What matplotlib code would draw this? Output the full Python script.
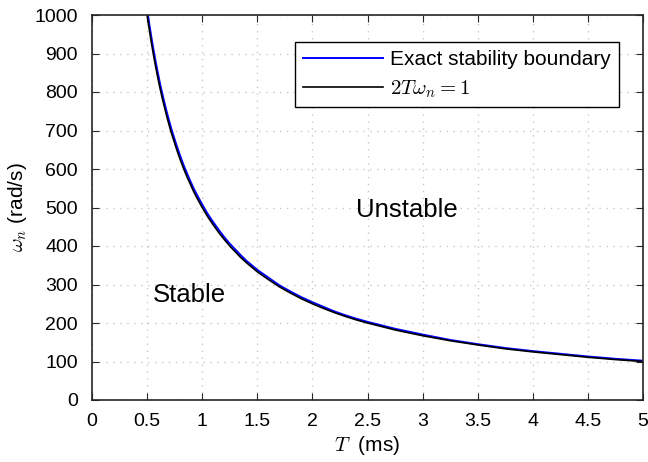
import matplotlib
matplotlib.use('Agg')
import matplotlib.pyplot as plt
import numpy as np

# sample period T (ms) and boundary values
T_ms = [0.50, 0.52, 0.54, 0.56, 0.58, 0.60, 0.62, 0.64, 0.66, 0.68, 0.70, 0.72, 0.74,
        0.76, 0.78, 0.80, 0.83, 0.86, 0.89, 0.92, 0.95, 1.00, 1.05, 1.10, 1.15, 1.20,
        1.25, 1.30, 1.35, 1.40, 1.45, 1.50, 1.60, 1.70, 1.80, 1.90, 2.00, 2.10, 2.20,
        2.30, 2.40, 2.50, 2.75, 3.00, 3.25, 3.50, 3.75, 4.00, 4.25, 4.50, 4.75, 5.00]
w_approx = [1000, 962, 926, 893, 862, 833, 806, 781, 758, 735, 714, 694, 676,
            658, 641, 625, 602, 581, 562, 543, 526, 500, 476, 455, 435, 417,
            400, 385, 370, 357, 345, 333, 313, 294, 278, 263, 250, 238, 227,
            217, 208, 200, 182, 167, 154, 143, 133, 125, 118, 111, 105, 100]
w_exact = [1015, 976, 940, 906, 875, 846, 818, 793, 769, 746, 725, 704, 686,
           668, 651, 634, 611, 590, 570, 551, 534, 508, 483, 462, 442, 423,
           406, 391, 376, 362, 350, 338, 318, 298, 282, 267, 254, 242, 230,
           220, 211, 203, 185, 170, 156, 145, 135, 127, 120, 113, 107, 102]

x_ticks = [0, 0.5, 1, 1.5, 2, 2.5, 3, 3.5, 4, 4.5, 5]
x_labels = ['0', '0.5', '1', '1.5', '2', '2.5', '3', '3.5', '4', '4.5', '5']

plt.rcParams['font.family'] = ['Liberation Sans', 'DejaVu Sans']
plt.rcParams['mathtext.fontset'] = 'cm'

fig = plt.figure(figsize=(6.48, 4.62), dpi=100)
ax = fig.add_axes([92 / 648, 62 / 462, 551 / 648, 385 / 462])

ax.plot(T_ms, w_exact, color='blue', lw=1.4, label='Exact stability boundary')
ax.plot(T_ms, w_approx, color='black', lw=1.2, label=r'$2T\omega_n = 1$')

ax.set_xlim(0, 5)
ax.set_ylim(0, 1000)
ax.set_xticks(x_ticks)
ax.set_xticklabels(x_labels)
ax.set_yticks(np.arange(0, 1001, 100))
ax.tick_params(direction='in', top=True, right=True, labelsize=14, length=5,
               color='#262626', labelcolor='black')
ax.tick_params(axis='x', pad=9)
ax.tick_params(axis='y', pad=10)
ax.grid(True, linestyle=(0, (1, 4)), color='#c8c8c8', lw=1)
for s in ax.spines.values():
    s.set_color('#262626')
    s.set_linewidth(1.2)

ax.set_xlabel(r'$T$  (ms)', fontsize=15, labelpad=3)
ax.set_ylabel(r'$\omega_n$ (rad/s)', fontsize=15, labelpad=4)

ax.text(0.55, 273, 'Stable', fontsize=18.5, va='center')
ax.text(2.40, 494, 'Unstable', fontsize=18.5, va='center')

leg = ax.legend(loc='upper right', bbox_to_anchor=(0.9564, 0.930), borderaxespad=0,
                fontsize=15, fancybox=False, framealpha=1, edgecolor='black',
                handlelength=3.85, borderpad=0.38, labelspacing=0.44, handletextpad=0.34)
leg.get_frame().set_linewidth(1.0)

fig.savefig('out.png', dpi=100)
